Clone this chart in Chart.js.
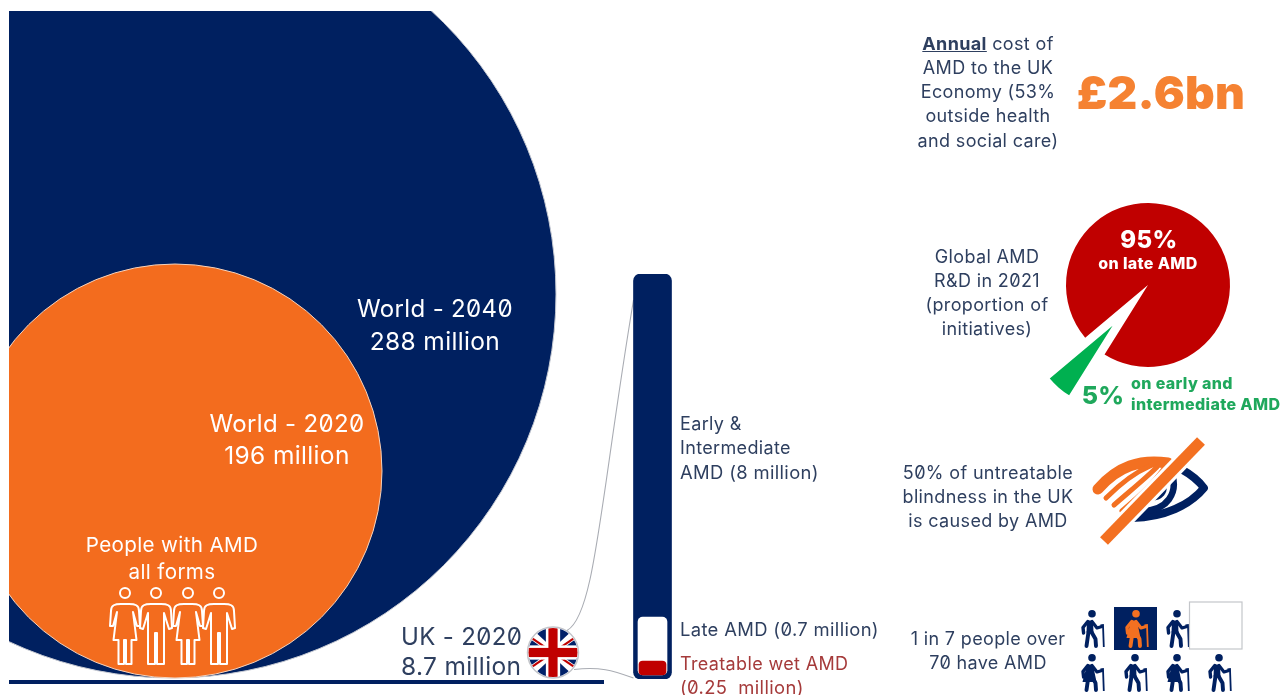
<!DOCTYPE html>
<html lang="en">
<head>
<meta charset="utf-8">
<title>Age-related macular degeneration in numbers</title>
<script src="https://cdn.jsdelivr.net/npm/chart.js@4"></script>
<style>
  html, body { margin: 0; padding: 0; background: #fff; width: 1286px; height: 695px; overflow: hidden; }
  body { position: relative; font-family: Inter, "Open Sans", sans-serif; font-feature-settings: "zero" 1; letter-spacing: 0.022em; }
  canvas { position: absolute; display: block; }
  #bubbles { left: 9px; top: 11px; }
  #stack { left: 620px; top: 264px; }
  #share { left: 1028px; top: 165px; }
  svg { position: absolute; left: 0; top: 0; }
  .t { position: absolute; white-space: pre; line-height: 1; transform: translate(-50%, -50%); }
  .l { transform: translate(0, -50%); }
</style>
</head>
<body>
<canvas id="bubbles" width="640" height="675"></canvas>
<canvas id="stack" width="65" height="425"></canvas>
<canvas id="share" width="240" height="240"></canvas>

<svg width="1286" height="695" viewBox="0 0 1286 695" xmlns="http://www.w3.org/2000/svg">
  <defs>
    <g id="walker-m">
      <circle cx="13" cy="3.8" r="3.8"/>
      <path d="M8 10.5 L14 10.5 L14.5 22.5 L7.5 22.5 Z"/>
      <path d="M8.8 11.5 L4 17.5 L4.6 23" fill="none" stroke="currentColor" stroke-width="3.4" stroke-linecap="round" stroke-linejoin="round"/>
      <path d="M13 11.5 L18 18 L23 16.5" fill="none" stroke="currentColor" stroke-width="3.2" stroke-linecap="round" stroke-linejoin="round"/>
      <path d="M9.5 22 L7.5 36 M12.5 22 L16.5 29 L17 36" fill="none" stroke="currentColor" stroke-width="3.9" stroke-linecap="round" stroke-linejoin="round"/>
      <path d="M21.5 15.5 L24 15 L24.8 37" fill="none" stroke="currentColor" stroke-width="1.8"/>
    </g>
    <g id="walker-f">
      <use href="#walker-m"/>
      <path d="M8 11 L14 11 L17.5 28 L3.5 28 Z"/>
    </g>
    <g id="person-woman" fill="none" stroke="#fff" stroke-width="2" stroke-linejoin="round">
      <circle cx="0" cy="0" r="5"/>
      <path d="M-4 11 C-10 11 -14 12 -14 18 L-15 33 L-12 33 L-8 19 L-11.5 47 L-6.5 47 L-6.5 71 L-1 71 L-1 47 L1 47 L1 71 L6.5 71 L6.5 47 L11.5 47 L8 19 L12 33 L15 33 L14 18 C14 12 10 11 4 11 Z"/>
    </g>
    <g id="person-man" fill="none" stroke="#fff" stroke-width="2" stroke-linejoin="round">
      <circle cx="0" cy="0" r="5"/>
      <path d="M-5 11 C-11 11 -15 12 -15 18 L-16 35 L-13 36 L-8 20 L-8 71 L-1 71 L-1 40 L1 40 L1 71 L8 71 L8 20 L13 36 L16 35 L15 18 C15 12 11 11 5 11 Z"/>
    </g>
  </defs>

  <!-- figures standing inside the orange circle -->
  <use href="#person-woman" x="125" y="593"/>
  <use href="#person-man" x="156" y="593"/>
  <use href="#person-woman" x="188" y="593"/>
  <use href="#person-man" x="219" y="593"/>

  <!-- crossed-out eye -->
  <g fill="none" stroke-linecap="butt" stroke-linejoin="round">
    <path d="M1181 469 C1190 474 1199 481 1204 488 C1190 505 1165 517 1132 518" stroke="#002060" stroke-width="8"/>
    <path d="M1172 474 C1178 492 1168 511 1142 511" stroke="#002060" stroke-width="6.5"/>
    <path d="M1166 483 C1169 492 1163 501 1150 501 L1148 495 L1154 487 Z" fill="#002060" stroke="none"/>
    <path d="M1098 489 C1118 466 1140 459 1168 463" stroke="#f37021" stroke-width="11" stroke-linecap="round"/>
    <path d="M1106 498 C1122 482 1136 472 1150 466" stroke="#f37021" stroke-width="5" stroke-linecap="round"/>
    <path d="M1114 505 C1130 491 1146 478 1157 467" stroke="#f37021" stroke-width="5" stroke-linecap="round"/>
    <path d="M1122 511 C1138 497 1152 485 1163 470" stroke="#f37021" stroke-width="5" stroke-linecap="round"/>
    <path d="M1104 541 L1201 441" stroke="#fff" stroke-width="17"/>
    <path d="M1104 541 L1201 441" stroke="#f37021" stroke-width="11"/>
  </g>

  <!-- one in seven pictogram -->
  <rect x="1114" y="607" width="43" height="43" fill="#002060"/>
  <g fill="currentColor" color="#002060">
    <use href="#walker-m" x="1079" y="610"/>
    <use href="#walker-m" x="1164" y="610"/>
    <use href="#walker-f" x="1079" y="654"/>
    <use href="#walker-m" x="1122" y="654"/>
    <use href="#walker-f" x="1164" y="654"/>
    <use href="#walker-m" x="1206" y="654"/>
  </g>
  <g fill="currentColor" color="#f37021">
    <use href="#walker-f" x="1123" y="610"/>
  </g>
  <rect x="1189.5" y="602" width="52.5" height="47" fill="#fff" stroke="#c4c6ca" stroke-width="1.2"/>
</svg>

<script>
// People with AMD, in millions
const circleLabels = ['World - 2040', 'World - 2020', 'UK - 2020'];
const peopleWithAmd = [288, 196, 8.7];

// UK breakdown, in millions
const earlyIntermediateAmd = [8];
const lateAmd = [0.7];
const treatableWetAmd = [0.25];

// Global R&D initiatives in 2021, percent
const researchLabels = ['Late AMD', 'Early and intermediate AMD'];
const researchShare = [95, 5];

const NAVY = '#002060', ORANGE = '#f36c1e', RED = '#c00000', GREEN = '#00b050';
const TEXT = '#2e3f5f';

// The circles are illustrative, not proportional: value to radius (px) runs through these stops.
const radiusStops = [[8.7, 25.5], [196, 207], [288, 384]];
function radiusFor(value) {
  for (let i = 1; i < radiusStops.length; i++) {
    const [v0, r0] = radiusStops[i - 1], [v1, r1] = radiusStops[i];
    if (value <= v1) return r0 + (r1 - r0) * (value - v0) / (v1 - v0);
  }
  return radiusStops[radiusStops.length - 1][1];
}
const circleAxisPositions = [172, 175, 553];

// Value axis of the UK column, with its stretched lower part: [millions, px above the foot]
const columnStops = [[-0.05, 0], [0, 4], [0.25, 18], [0.7, 62], [8.7, 405]];
class KneedScale extends Chart.LinearScale {
  static id = 'kneed';
  static defaults = Chart.LinearScale.defaults;
  getPixelForValue(value) {
    let px = columnStops[columnStops.length - 1][1];
    for (let i = 1; i < columnStops.length; i++) {
      const [v0, p0] = columnStops[i - 1], [v1, p1] = columnStops[i];
      if (value <= v1) { px = p0 + (p1 - p0) * (value - v0) / (v1 - v0); break; }
    }
    return this.bottom - px * this.height / 405;
  }
}
Chart.register(KneedScale);

Chart.defaults.animation = false;
Chart.defaults.responsive = false;
Chart.defaults.plugins.legend.display = false;
Chart.defaults.plugins.tooltip.enabled = false;
Chart.defaults.events = [];

// Column of UK cases: whole column behind, late AMD inset, treatable wet AMD inset again
const columnTotal = earlyIntermediateAmd[0] + lateAmd[0];
const columnChart = new Chart(document.getElementById('stack'), {
  type: 'bar',
  data: {
    labels: ['UK - 2020'],
    datasets: [
      { label: 'Treatable wet AMD', data: treatableWetAmd, backgroundColor: RED, barThickness: 27, borderRadius: 4, borderSkipped: false, grouped: false, order: 1 },
      { label: 'Late AMD', data: lateAmd, backgroundColor: '#fff', barThickness: 29, borderRadius: 5, borderSkipped: false, grouped: false, order: 2 },
      { label: 'All AMD', data: [columnTotal], base: -0.05, backgroundColor: NAVY, barThickness: 38, borderRadius: 7, borderSkipped: false, grouped: false, order: 3 }
    ]
  },
  options: {
    layout: { padding: { top: 10, bottom: 10 } },
    scales: {
      x: { display: false },
      y: { type: 'kneed', display: false, min: -0.05, max: columnTotal }
    }
  }
});

// Union Jack over the UK circle and the leader lines joining it to the column
const flagAndLeaders = {
  id: 'flagAndLeaders',
  afterDatasetsDraw(chart) {
    const { ctx } = chart;
    const uk = chart.getDatasetMeta(0).data[2];
    const r = uk.options.radius;
    ctx.save();
    ctx.beginPath();
    ctx.arc(uk.x, uk.y, r - 1, 0, Math.PI * 2);
    ctx.clip();
    ctx.fillStyle = '#fff';
    ctx.fillRect(uk.x - r, uk.y - r, 2 * r, 2 * r);
    ctx.fillStyle = '#012169';
    [[-1, -1], [1, -1], [-1, 1], [1, 1]].forEach(([sx, sy]) => {
      // upper and side triangles of each quarter
      ctx.beginPath();
      ctx.moveTo(uk.x + sx * r * 0.22, uk.y + sy * r * 0.36);
      ctx.lineTo(uk.x + sx * r * 0.22, uk.y + sy * r);
      ctx.lineTo(uk.x + sx * r * 0.9, uk.y + sy * r);
      ctx.closePath();
      ctx.fill();
      ctx.beginPath();
      ctx.moveTo(uk.x + sx * r * 0.46, uk.y + sy * r * 0.22);
      ctx.lineTo(uk.x + sx * r, uk.y + sy * r * 0.22);
      ctx.lineTo(uk.x + sx * r, uk.y + sy * r * 0.6);
      ctx.closePath();
      ctx.fill();
    });
    ctx.strokeStyle = RED;
    ctx.lineWidth = 2.2;
    [[-1, -1], [1, 1], [1, -1], [-1, 1]].forEach(([sx, sy]) => {
      ctx.beginPath();
      ctx.moveTo(uk.x + sx * r * 0.3, uk.y + sy * r * 0.2);
      ctx.lineTo(uk.x + sx * r, uk.y + sy * r * 0.68);
      ctx.stroke();
    });
    ctx.fillStyle = '#fff';
    ctx.fillRect(uk.x - r, uk.y - r * 0.28, 2 * r, r * 0.56);
    ctx.fillRect(uk.x - r * 0.28, uk.y - r, r * 0.56, 2 * r);
    ctx.fillStyle = RED;
    ctx.fillRect(uk.x - r, uk.y - r * 0.18, 2 * r, r * 0.36);
    ctx.fillRect(uk.x - r * 0.18, uk.y - r, r * 0.36, 2 * r);
    ctx.restore();

    // leader lines, in this canvas' coordinates
    const column = columnChart.getDatasetMeta(2).data[0];
    const canvasLeft = chart.canvas.offsetLeft, canvasTop = chart.canvas.offsetTop;
    const colLeft = column.x - column.width / 2 + columnChart.canvas.offsetLeft - canvasLeft;
    const colTop = column.y + columnChart.canvas.offsetTop - canvasTop;
    const colFoot = column.base + columnChart.canvas.offsetTop - canvasTop;
    ctx.save();
    ctx.strokeStyle = '#a9acb3';
    ctx.lineWidth = 1.1;
    ctx.beginPath();
    ctx.moveTo(uk.x + 14, uk.y - 22);
    ctx.bezierCurveTo(uk.x + 42, uk.y - 37, uk.x + 47, uk.y - 152, colLeft, colTop + 26);
    ctx.moveTo(uk.x + 21, uk.y + 17);
    ctx.bezierCurveTo(uk.x + 47, uk.y + 14, uk.x + 59, uk.y + 18, colLeft, colFoot - 1);
    ctx.stroke();
    ctx.restore();
  }
};

// World and UK circles, all resting on the baseline
const bubbleHeight = peopleWithAmd.map(radiusFor);
new Chart(document.getElementById('bubbles'), {
  type: 'bubble',
  data: {
    datasets: [{
      label: 'People with AMD (millions)',
      data: peopleWithAmd.map((v, i) => ({ x: circleAxisPositions[i], y: bubbleHeight[i], r: radiusFor(v) })),
      backgroundColor: [NAVY, ORANGE, '#fff'],
      borderColor: ['#c5c9d2', '#f3d2bd', '#c3c5ca'],
      borderWidth: [1, 1, 1.5],
      clip: 0
    }]
  },
  options: {
    layout: { autoPadding: false, padding: { right: 46, bottom: 2 } },
    scales: {
      x: {
        min: 9, max: 603,
        grid: { display: false },
        ticks: { display: false },
        border: { display: true, color: NAVY, width: 4 },
        afterFit: s => { s.height = 2; }
      },
      y: { display: false, min: -4, max: 667 }
    }
  },
  plugins: [flagAndLeaders]
});

// Research share: the 5% slice sits away from the pie, moved along its own bisector
const PIE_RADIUS = 82;
const sliceShift = [0, 54];
const pullSlices = {
  id: 'pullSlices',
  beforeDatasetsDraw(chart) {
    const { left, right, top, bottom } = chart.chartArea;
    chart.getDatasetMeta(0).data.forEach((arc, i) => {
      const mid = (arc.startAngle + arc.endAngle) / 2;
      arc.x = (left + right) / 2 + Math.cos(mid) * sliceShift[i];
      arc.y = (top + bottom) / 2 + Math.sin(mid) * sliceShift[i];
    });
  }
};
new Chart(document.getElementById('share'), {
  type: 'pie',
  data: {
    labels: researchLabels,
    datasets: [{ data: researchShare, backgroundColor: [RED, GREEN], borderWidth: 0 }]
  },
  options: { rotation: 230, radius: PIE_RADIUS },
  plugins: [pullSlices]
});

// Captions
const WHITE = '#fff', WET = '#a53a3a', LEAF = '#1fa85c';
const captions = [
  // [text, x, y, size, colour, weight, align]
  [`${circleLabels[0]}`, 435, 308, 24, WHITE, 400, 'c'],
  [`${peopleWithAmd[0]} million`, 435, 340, 24.5, WHITE, 400, 'c'],
  [`${circleLabels[1]}`, 287, 423, 24, WHITE, 400, 'c'],
  [`${peopleWithAmd[1]} million`, 287, 454, 24.5, WHITE, 400, 'c'],
  ['People with AMD', 172, 544, 20.6, WHITE, 400, 'c'],
  ['all forms', 172, 571, 20.6, WHITE, 400, 'c'],
  [`${circleLabels[2]}`, 401, 636, 24, TEXT, 400, 'l'],
  [`${peopleWithAmd[2]} million`, 401, 665, 24.5, TEXT, 400, 'l'],
  ['Early &', 680, 423, 18, TEXT, 400, 'l'],
  ['Intermediate', 680, 447, 18, TEXT, 400, 'l'],
  [`AMD (${earlyIntermediateAmd[0]} million)`, 680, 471, 18.4, TEXT, 400, 'l'],
  [`Late AMD (${lateAmd[0]} million)`, 680, 628, 18.4, TEXT, 400, 'l'],
  ['Treatable wet AMD', 680, 663, 18, WET, 400, 'l'],
  [`(${treatableWetAmd[0]}  million)`, 680, 686, 18.4, WET, 400, 'l'],
  ['AMD to the UK', 988, 67, 18, TEXT, 400, 'c'],
  ['Economy (53%', 988, 91, 18, TEXT, 400, 'c'],
  ['outside health', 988, 115, 18, TEXT, 400, 'c'],
  ['and social care)', 988, 140, 18, TEXT, 400, 'c'],
  ['£2.6bn', 1161, 91, 46, '#f58232', 900, 'c'],
  ['Global AMD', 987, 256, 18, TEXT, 400, 'c'],
  ['R&D in 2021', 987, 280, 18, TEXT, 400, 'c'],
  ['(proportion of', 987, 304, 18, TEXT, 400, 'c'],
  ['initiatives)', 987, 328, 18, TEXT, 400, 'c'],
  [`${researchShare[0]}%`, 1149, 239, 24, WHITE, 800, 'c'],
  ['on late AMD', 1148, 262, 16, WHITE, 800, 'c'],
  [`${researchShare[1]}%`, 1103, 394, 25, LEAF, 800, 'c'],
  ['on early and', 1131, 382, 16, LEAF, 800, 'l'],
  ['intermediate AMD', 1131, 403, 16, LEAF, 800, 'l'],
  ['50% of untreatable', 988, 472, 18, TEXT, 400, 'c'],
  ['blindness in the UK', 988, 496, 18, TEXT, 400, 'c'],
  ['is caused by AMD', 988, 520, 18, TEXT, 400, 'c'],
  ['1 in 7 people over', 988, 638, 18, TEXT, 400, 'c'],
  ['70 have AMD', 988, 662, 18, TEXT, 400, 'c']
];
function addCaption(html, x, y, size, colour, weight, align) {
  const el = document.createElement('div');
  el.className = align === 'l' ? 't l' : 't';
  el.style.cssText = `left:${x}px;top:${y + 0.5}px;font-size:${size}px;color:${colour};font-weight:${weight}`;
  el.innerHTML = html;
  document.body.appendChild(el);
}
captions.forEach(c => addCaption(c[0].replace(/&/g, '&amp;'), c[1], c[2], c[3], c[4], c[5], c[6]));
addCaption('<b style="font-weight:700;text-decoration:underline">Annual</b> cost of', 988, 43, 18, TEXT, 400, 'c');
</script>
</body>
</html>
